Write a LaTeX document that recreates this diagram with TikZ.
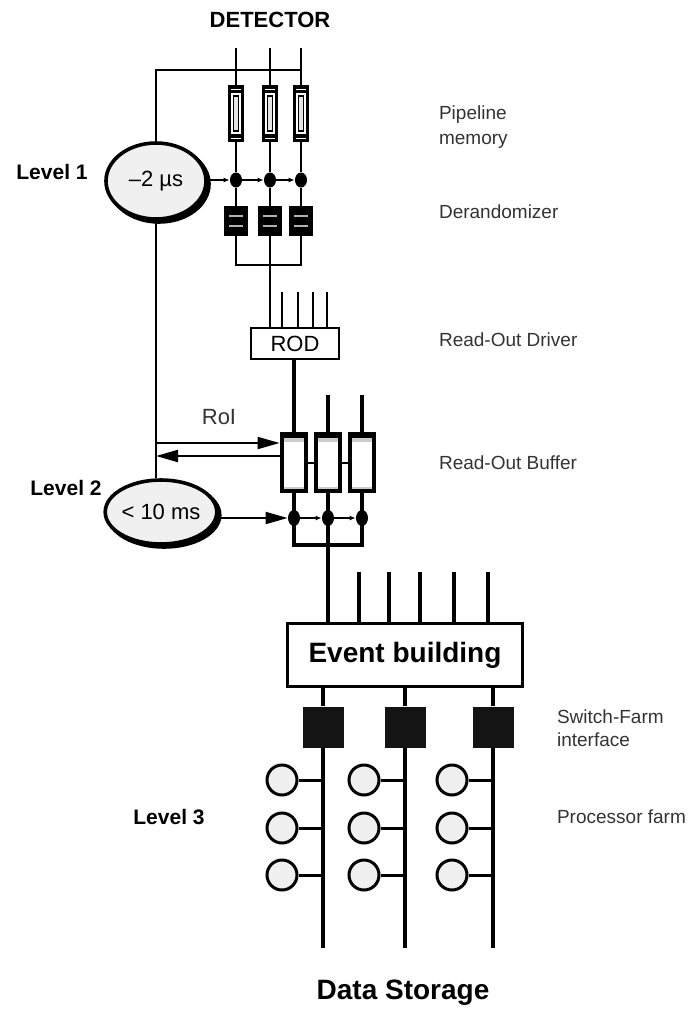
\documentclass[tikz,border=0pt]{standalone}
\usepackage{fontspec}
\setmainfont{Liberation Sans}
\usetikzlibrary{arrows.meta,positioning,calc,shapes.geometric}

\begin{document}
\begin{tikzpicture}[
    x=0.5pt, y=-0.5pt,
    wire/.style={line width=1pt},
    bus/.style={line width=2pt},
    sidetext/.style={anchor=west, align=left, text=black!80, font=\fontsize{9.5}{12.5}\selectfont},
    leveltext/.style={font=\bfseries\fontsize{10.5}{12}\selectfont},
    trigger/.style={ellipse, draw, line width=1.8pt, fill=gray!12, inner sep=0pt,
      preaction={draw, fill=black, line width=1.8pt, transform canvas={xshift=1.5pt, yshift=-1.5pt}},
      font=\fontsize{11}{13}\selectfont},
    pipecell/.style={fill=black, minimum width=8pt, minimum height=28.5pt, inner sep=0pt,
      path picture={
        \fill[white] ([xshift=-2.5pt,yshift=-4pt]path picture bounding box.north)
          rectangle ([xshift=2.5pt,yshift=4pt]path picture bounding box.south);
        \filldraw[fill=gray!20, draw=black, line width=0.6pt] ([xshift=-1.3pt,yshift=-5.5pt]path picture bounding box.north)
          rectangle ([xshift=1.3pt,yshift=5.5pt]path picture bounding box.south);
        \draw[white, line width=0.5pt] ([xshift=-2.5pt,yshift=-2pt]path picture bounding box.north)
          -- ([xshift=2.5pt,yshift=-2pt]path picture bounding box.north);
        \draw[white, line width=0.5pt] ([xshift=-2.5pt,yshift=2pt]path picture bounding box.south)
          -- ([xshift=2.5pt,yshift=2pt]path picture bounding box.south);
      }},
    derand/.style={fill=black, minimum width=12pt, minimum height=15pt, inner sep=0pt,
      path picture={
        \draw[gray!60, line width=1pt] ([xshift=-3.5pt,yshift=2.5pt]path picture bounding box.center)
          -- ([xshift=3.5pt,yshift=2.5pt]path picture bounding box.center);
        \draw[gray!60, line width=1pt] ([xshift=-3.5pt,yshift=-2.5pt]path picture bounding box.center)
          -- ([xshift=3.5pt,yshift=-2.5pt]path picture bounding box.center);
      }},
    robcell/.style={fill=black, minimum width=14pt, minimum height=30.5pt, inner sep=0pt,
      path picture={
        \fill[white] ([xshift=-5pt,yshift=-3pt]path picture bounding box.north)
          rectangle ([xshift=5pt,yshift=2pt]path picture bounding box.south);
        \fill[gray!40] ([xshift=-5pt,yshift=-3pt]path picture bounding box.north)
          rectangle ([xshift=5pt,yshift=-4.8pt]path picture bounding box.north);
        \fill[gray!40] ([xshift=-5pt,yshift=2pt]path picture bounding box.south)
          rectangle ([xshift=5pt,yshift=2.8pt]path picture bounding box.south);
      }},
    tap/.style={ellipse, fill=black, minimum width=6pt, minimum height=7.5pt, inner sep=0pt},
    sfi/.style={fill=black!92, minimum size=20.5pt, inner sep=0pt},
    cpu/.style={circle, draw, line width=1.5pt, fill=gray!12, minimum size=15pt, inner sep=0pt},
    trigarrow/.style={line width=1pt, -{Triangle[length=11pt,width=6pt]}},
    clockarrow/.style={wire, -{Latex[length=3pt,width=2.5pt]}},
  ]
  \useasboundingbox (0,0) rectangle (687,1013);

  % front end
  \node[font=\bfseries\fontsize{11}{13}\selectfont] (detector) at (270,20) {DETECTOR};
  \coordinate (det1) at (236,48);
  \coordinate (det2) at (270,48);
  \coordinate (det3) at (301,48);
  \coordinate (fanout) at (301,70);

  \node[trigger, minimum width=50pt, minimum height=38pt] (lvlone) at (156,181) {–2 µs};
  \node[leveltext] (lvlonetext) at (52,172) {Level 1};

  \node[pipecell] (pipe1) at (236,113.5) {};
  \node[pipecell] (pipe2) at (270,113.5) {};
  \node[pipecell] (pipe3) at (301,113.5) {};
  \node[tap] (tap1) at (236,180) {};
  \node[tap] (tap2) at (270,180) {};
  \node[tap] (tap3) at (301,180) {};
  \node[derand] (der1) at (236,221) {};
  \node[derand] (der2) at (270,221) {};
  \node[derand] (der3) at (301,221) {};
  \coordinate (merge1) at (270,265);

  \draw[wire] (fanout) -| (lvlone.north);
  \draw[wire] (det1) -- (pipe1.north) (pipe1.south) -- (tap1) -- (der1.north);
  \draw[wire] (det2) -- (pipe2.north) (pipe2.south) -- (tap2) -- (der2.north);
  \draw[wire] (det3) -- (pipe3.north) (pipe3.south) -- (tap3) -- (der3.north);
  \draw[clockarrow] (lvlone.east |- tap1) -- (tap1.west);
  \draw[clockarrow] (tap1.east) -- (tap2.west);
  \draw[clockarrow] (tap2.east) -- (tap3.west);
  \draw[wire] (der1.south) |- (merge1) -| (der3.south);

  % read-out driver
  \node[draw, line width=1.2pt, minimum width=43.8pt, minimum height=15.3pt, inner sep=0pt,
    font=\fontsize{11}{13}\selectfont] (rod) at (295,343.5) {ROD};
  \draw[line width=1.4pt] (der2.south) -- (der2.south |- rod.north);
  \foreach \x [count=\i] in {282,298,313,327} {
    \coordinate (rodin\i) at (\x,292);
    \draw[line width=1.4pt] (rodin\i) -- (rodin\i |- rod.north);
  }

  % read-out buffers and level 2
  \node[robcell] (rob1) at (294,462.5) {};
  \node[robcell] (rob2) at (328,462.5) {};
  \node[robcell] (rob3) at (362,462.5) {};
  \coordinate (robin2) at (328,395);
  \coordinate (robin3) at (362,395);
  \draw[wire] (rob1.east) -- (rob2.west) (rob2.east) -- (rob3.west);
  \draw[bus] (rod.south -| rob1) -- (rob1.north);
  \draw[bus] (robin2) -- (rob2.north);
  \draw[bus] (robin3) -- (rob3.north);

  \node[trigger, minimum width=50pt, minimum height=32pt] (lvltwo) at (161,512) {< 10 ms};
  \node[leveltext] (lvltwotext) at (66,488) {Level 2};
  \draw[wire] (lvlone.south) -- (lvlone.south |- lvltwo.north);

  \coordinate (roiout) at (156,443);
  \coordinate (roiin) at (156,456);
  \draw[trigarrow] (roiout) -- (roiout -| rob1.west);
  \draw[trigarrow] (roiin -| rob1.west) -- (roiin);
  \node[font=\fontsize{11}{13}\selectfont, text=black!80] (roi) at (219,417) {RoI};

  \coordinate (merge2) at (328,545);
  \draw[bus] (rob1.south) |- (merge2) -| (rob3.south);
  \node[tap, minimum height=8pt] (rt1) at (294,518) {};
  \node[tap, minimum height=8pt] (rt2) at (328,518) {};
  \node[tap, minimum height=8pt] (rt3) at (362,518) {};
  \draw[trigarrow] (lvltwo.east |- rt1) -- (rt1.west);
  \draw[clockarrow] (rt1.east) -- (rt2.west);
  \draw[clockarrow] (rt2.east) -- (rt3.west);

  % event building and level 3
  \node[draw, line width=1.5pt, minimum width=117.5pt, minimum height=31.5pt, inner sep=0pt,
    font=\bfseries\fontsize{14}{16}\selectfont] (evb) at (405,655) {Event building};
  \draw[bus] (rob2.south) -- (rob2.south |- evb.north);
  \foreach \x [count=\i] in {359,389,420,454,488} {
    \coordinate (evin\i) at (\x,572);
    \draw[bus] (evin\i) -- (evin\i |- evb.north);
  }

  \foreach \x [count=\i] in {323,405,493} {
    \node[sfi] (sfi\i) at (\x,727) {};
    \coordinate (store\i) at (\x,948);
    \draw[bus] (evb.south -| sfi\i) -- (sfi\i.north);
    \draw[bus] (sfi\i.south) -- (store\i);
    \foreach \y [count=\j] in {780,828,875} {
      \node[cpu] (cpu\i\j) at (\x-41,\y) {};
      \draw[line width=1.5pt] (cpu\i\j.east) -- (cpu\i\j -| store\i);
    }
  }

  % labels
  \node[sidetext] (pipetext) at (432,127.5) {Pipeline\\memory};
  \node[sidetext] (dertext) at (432,212) {Derandomizer};
  \node[sidetext] (rodtext) at (432,340) {Read-Out Driver};
  \node[sidetext] (robtext) at (432,463) {Read-Out Buffer};
  \node[sidetext, font=\fontsize{9.5}{11.5}\selectfont] (sfitext) at (550,728.5) {Switch-Farm\\interface};
  \node[sidetext] (farmtext) at (550,817) {Processor farm};
  \node[leveltext] (lvlthreetext) at (169,817) {Level 3};
  \node[font=\bfseries\fontsize{14}{16}\selectfont] (storage) at (403,993) {Data Storage};
\end{tikzpicture}
\end{document}
